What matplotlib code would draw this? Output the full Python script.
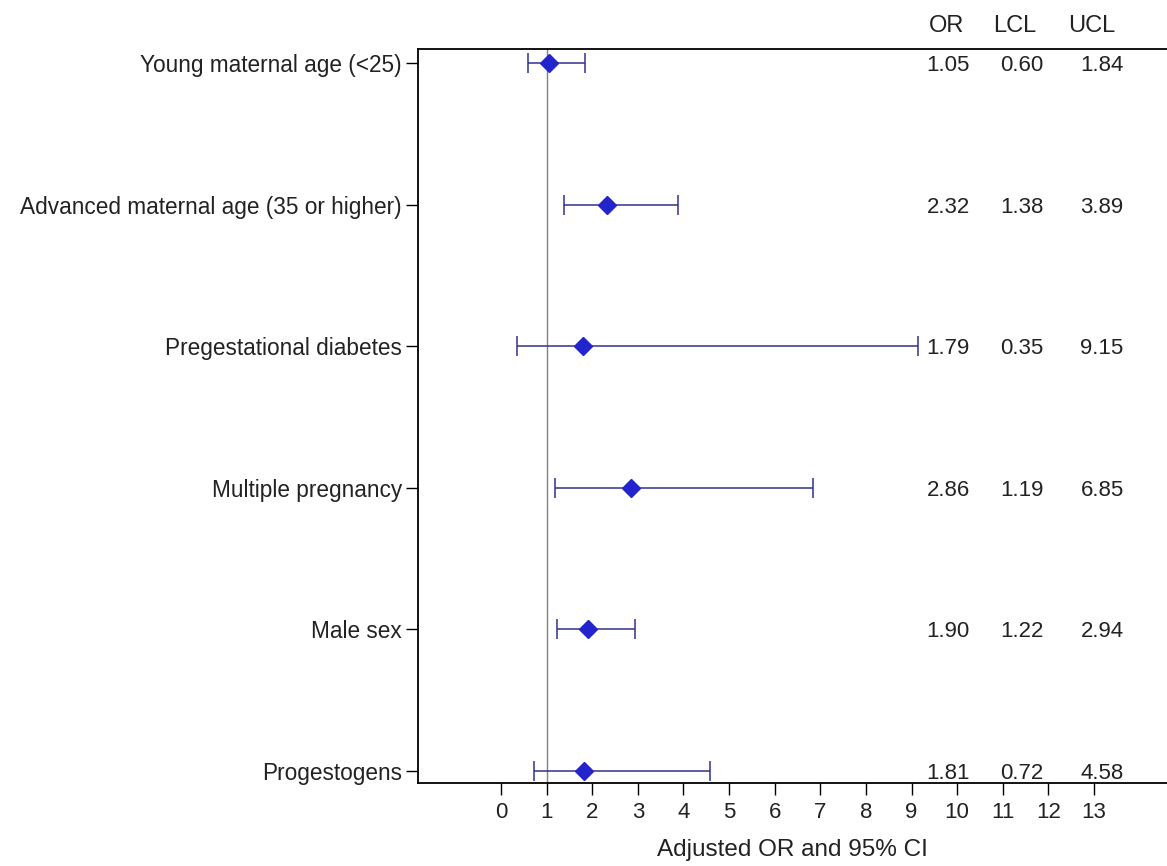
import matplotlib
matplotlib.use("Agg")
import matplotlib.pyplot as plt

plt.rcParams["font.family"] = ["Liberation Sans", "DejaVu Sans"]

factors = [
    "Young maternal age (<25)",
    "Advanced maternal age (35 or higher)",
    "Pregestational diabetes",
    "Multiple pregnancy",
    "Male sex",
    "Progestogens",
]
odds_ratio = [1.05, 2.32, 1.79, 2.86, 1.90, 1.81]
lower_cl = [0.60, 1.38, 0.35, 1.19, 1.22, 0.72]
upper_cl = [1.84, 3.89, 9.15, 6.85, 2.94, 4.58]
x_ticks = list(range(0, 14))
headers = ["OR", "LCL", "UCL"]

W, H = 1167, 866
left_px, top_px, bottom_px = 418, 49, 783
XMIN, XMAX = -1.82, 14.6

fig = plt.figure(figsize=(W / 100, H / 100), dpi=100)
ax = fig.add_axes([left_px / W, 1 - bottom_px / H, 1 - left_px / W,
                   (bottom_px - top_px) / H])

rows = list(range(len(factors)))
xerr = [[o - l for o, l in zip(odds_ratio, lower_cl)],
        [u - o for o, u in zip(odds_ratio, upper_cl)]]

ax.axvline(1, color="#808080", lw=1.0, zorder=1)
ax.errorbar(odds_ratio, rows, xerr=xerr, fmt="none", ecolor="#32328c",
            elinewidth=1.1, capsize=7, capthick=1.1, zorder=2)
ax.plot(odds_ratio, rows, "D", color="#2424cc", markersize=9,
        markeredgecolor="#2424cc", zorder=3)

ax.set_xlim(XMIN, XMAX)
ax.set_ylim(5.085, -0.1)
ax.set_xticks(x_ticks)
ax.set_xticklabels([str(t) for t in x_ticks], fontsize=16, color="#222222")
ax.set_yticks(rows)
ax.set_yticklabels(factors, fontsize=16.3, color="#222222")
ax.tick_params(axis="x", length=8.6, width=1.0, pad=5)
ax.tick_params(axis="y", length=8.6, width=1.0, pad=3)
ax.set_xlabel("Adjusted OR and 95% CI", fontsize=17.5, color="#222222")
ax.xaxis.set_label_coords(0.5, -0.0913)
ax.xaxis.label.set_va("center")

ax.spines["right"].set_visible(False)
for side in ["top", "bottom", "left"]:
    ax.spines[side].set_linewidth(1.3)

# statistics columns (positions in pixels converted to data x)
to_data = lambda px: XMIN + (px - left_px) / (W - left_px) * (XMAX - XMIN)
col_header_x = [947, 1015, 1092]
col_value_x = [948, 1022, 1102]
for hx, h in zip(col_header_x, headers):
    ax.text(to_data(hx), -0.279, h, ha="center", va="center_baseline",
            fontsize=17, color="#222222", clip_on=False)
for vx, col in zip(col_value_x, [odds_ratio, lower_cl, upper_cl]):
    for r, v in zip(rows, col):
        ax.text(to_data(vx), r, f"{v:.2f}", ha="center", va="center_baseline",
                fontsize=16, color="#222222")

fig.savefig("out.png", dpi=100)
